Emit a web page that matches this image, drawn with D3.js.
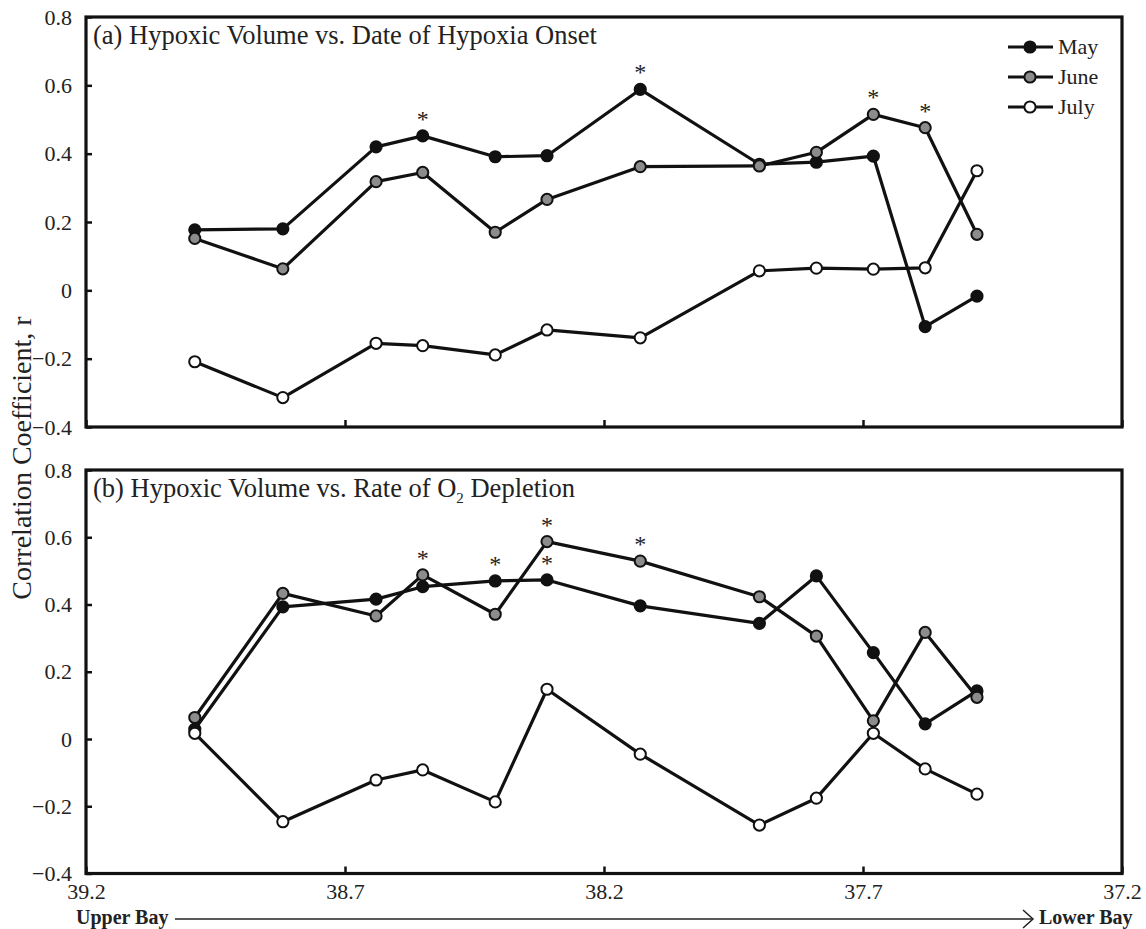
<!DOCTYPE html>
<html>
<head>
<meta charset="utf-8">
<script src="https://cdn.jsdelivr.net/npm/d3@7"></script>
<style>
  html, body { margin: 0; padding: 0; background: #fff; }
  svg { display: block; }
  text { font-family: "Liberation Serif", "Times New Roman", serif; fill: #222; }
</style>
</head>
<body>
<svg id="chart" width="1146" height="929"></svg>
<script>
// Station latitudes (degrees N), upper bay to lower bay
const latitudes = [38.99, 38.82, 38.64, 38.55, 38.41, 38.31, 38.13, 37.90, 37.79, 37.68, 37.58, 37.48];

// (a) Hypoxic volume vs. date of hypoxia onset
const mayOnset  = [0.177, 0.180, 0.420, 0.452, 0.391, 0.394, 0.588, 0.369, 0.375, 0.393, -0.106, -0.017];
const juneOnset = [0.152, 0.063, 0.318, 0.345, 0.170, 0.266, 0.362, 0.364, 0.404, 0.515, 0.476, 0.164];
const julyOnset = [-0.209, -0.314, -0.155, -0.162, -0.189, -0.116, -0.139, 0.057, 0.065, 0.062, 0.066, 0.350];

// (b) Hypoxic volume vs. rate of O2 depletion
const mayRate  = [0.029, 0.393, 0.416, 0.453, 0.470, 0.473, 0.396, 0.344, 0.485, 0.257, 0.045, 0.143];
const juneRate = [0.064, 0.433, 0.366, 0.488, 0.371, 0.587, 0.529, 0.423, 0.306, 0.054, 0.317, 0.124];
const julyRate = [0.017, -0.246, -0.122, -0.092, -0.187, 0.148, -0.045, -0.256, -0.176, 0.017, -0.089, -0.164];

// Indices of significant correlations (marked with *)
const sigOnset = { May: [3, 6], June: [9, 10], July: [] };
const sigRate  = { May: [4, 5], June: [3, 5, 6], July: [] };

const months = ["May", "June", "July"];
const monthFill = { May: "#111", June: "#8c8c8c", July: "#fff" };

const yTicks = [0.8, 0.6, 0.4, 0.2, 0, -0.2, -0.4];
const xTicks = [39.2, 38.7, 38.2, 37.7, 37.2];

const serif = '"Liberation Serif", "Times New Roman", serif';
const svg = d3.select("#chart");
const left = 86, right = 1122;

const x = d3.scaleLinear().domain([39.2, 37.2]).range([left, right]);

const panels = [
  { top: 17, bottom: 427, series: { May: mayOnset, June: juneOnset, July: julyOnset }, sig: sigOnset,
    title: "(a) Hypoxic Volume vs. Date of Hypoxia Onset", showX: false, legend: true },
  { top: 470, bottom: 873.5, series: { May: mayRate, June: juneRate, July: julyRate }, sig: sigRate,
    title: "(b) Hypoxic Volume vs. Rate of O", showX: true, legend: false }
];

panels.forEach((p, pi) => {
  const y = d3.scaleLinear().domain([-0.4, 0.8]).range([p.bottom, p.top]);
  const g = svg.append("g");

  // y axis with inward ticks
  const yAxis = d3.axisLeft(y).tickValues(yTicks).tickSize(-6).tickPadding(14)
    .tickFormat(d => d === 0 ? "0" : d3.format(".1f")(d));
  const ya = g.append("g").attr("transform", `translate(${left},0)`).call(yAxis);
  ya.attr("font-family", null);
  ya.select(".domain").remove();
  ya.selectAll(".tick line").attr("stroke", "#111").attr("stroke-width", 2.5);
  ya.selectAll(".tick text").style("font-size", "22px").attr("fill", "#222").style("font-family", serif);

  // x axis with inward ticks
  const xAxis = d3.axisBottom(x).tickValues(xTicks).tickSize(-7).tickPadding(10)
    .tickFormat(d3.format(".1f"));
  const xa = g.append("g").attr("transform", `translate(0,${p.bottom})`).call(xAxis);
  xa.attr("font-family", null);
  xa.select(".domain").remove();
  xa.selectAll(".tick line").attr("stroke", "#111").attr("stroke-width", 2.5);
  xa.selectAll(".tick text").style("font-size", "22px").attr("fill", "#222").style("font-family", serif)
    .style("display", p.showX ? null : "none");

  // frame
  g.append("rect")
    .attr("x", left).attr("y", p.top)
    .attr("width", right - left).attr("height", p.bottom - p.top)
    .attr("fill", "none").attr("stroke", "#111").attr("stroke-width", 3.2);

  // panel title
  const t = g.append("text").attr("x", 93).attr("y", p.top + 27).style("font-size", "26.5px").text(p.title);
  if (pi === 1) {
    t.append("tspan").attr("dy", 6).style("font-size", "15px").text("2");
    t.append("tspan").attr("dy", -6).text(" Depletion");
  }

  const line = d3.line().x((d, i) => x(latitudes[i])).y(d => y(d));

  months.forEach(m => {
    const vals = p.series[m];
    g.append("path").datum(vals)
      .attr("d", line).attr("fill", "none")
      .attr("stroke", "#111").attr("stroke-width", 3.2).attr("stroke-linejoin", "round");
    g.selectAll(null).data(vals).join("circle")
      .attr("cx", (d, i) => x(latitudes[i])).attr("cy", d => y(d))
      .attr("r", 5.6).attr("fill", monthFill[m]).attr("stroke", "#111").attr("stroke-width", 2);
    g.selectAll(null).data(p.sig[m]).join("text")
      .attr("x", i => x(latitudes[i])).attr("y", i => y(vals[i]) - 9)
      .attr("text-anchor", "middle").style("font-size", "24px").text("*");
  });

  if (p.legend) {
    const lg = g.append("g");
    months.forEach((m, i) => {
      const ly = 47 + i * 30;
      lg.append("line").attr("x1", 1008).attr("x2", 1053).attr("y1", ly).attr("y2", ly)
        .attr("stroke", "#111").attr("stroke-width", 3.2);
      lg.append("circle").attr("cx", 1030).attr("cy", ly).attr("r", 5.6)
        .attr("fill", monthFill[m]).attr("stroke", "#111").attr("stroke-width", 2);
      lg.append("text").attr("x", 1058).attr("y", ly + 7).style("font-size", "22px").text(m);
    });
  }
});

// y axis label
svg.append("text")
  .attr("transform", "translate(31,458) rotate(-90)")
  .attr("text-anchor", "middle").style("font-size", "28px")
  .text("Correlation Coefficient, r");

// bay direction indicator
svg.append("text").attr("x", 76).attr("y", 924).style("font-size", "20px").style("font-weight", "bold").text("Upper Bay");
svg.append("text").attr("x", 1039).attr("y", 924).style("font-size", "20px").style("font-weight", "bold").text("Lower Bay");
svg.append("line").attr("x1", 175).attr("x2", 1033).attr("y1", 919).attr("y2", 919)
  .attr("stroke", "#222").attr("stroke-width", 1.5);
svg.append("path").attr("d", "M1023,910 L1033,919 L1023,928")
  .attr("fill", "none").attr("stroke", "#222").attr("stroke-width", 1.5);
</script>
</body>
</html>
